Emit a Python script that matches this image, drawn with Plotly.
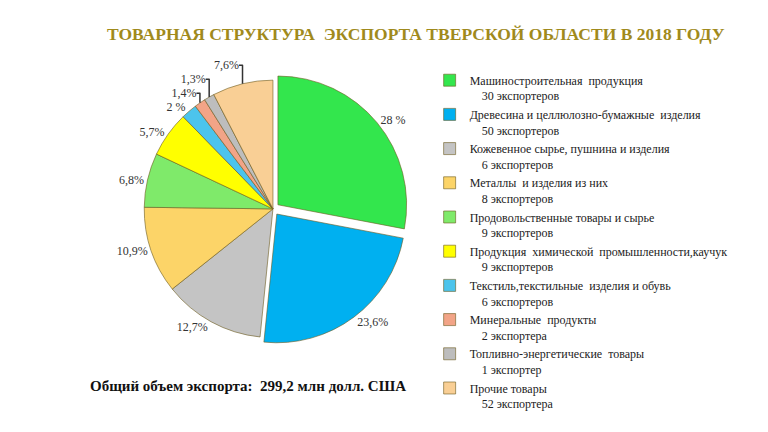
import plotly.graph_objects as go

categories = [
    "Машиностроительная  продукция",
    "Древесина и целлюлозно-бумажные  изделия",
    "Кожевенное сырье, пушнина и изделия",
    "Металлы  и изделия из них",
    "Продовольственные товары и сырье",
    "Продукция  химической  промышленности,каучук",
    "Текстиль,текстильные  изделия и обувь",
    "Минеральные  продукты",
    "Топливно-энергетические  товары",
    "Прочие товары",
]
exporters = [
    "30 экспортеров", "50 экспортеров", "6 экспортеров", "8 экспортеров",
    "9 экспортеров", "9 экспортеров", "6 экспортеров", "2 экспортера",
    "1 экспортер", "52 экспортера",
]
shares = [28.0, 23.6, 12.7, 10.9, 6.8, 5.7, 2.0, 1.4, 1.3, 7.6]
share_labels = ["28 %", "23,6%", "12,7%", "10,9%", "6,8%", "5,7%", "2 %", "1,4%", "1,3%", "7,6%"]
colors = ["#33e64d", "#00b0f0", "#c4c4c4", "#fcd468", "#7fea6a",
          "#ffff00", "#4cc4ec", "#f2a487", "#bdbdbd", "#f9cf95"]

nb = "\u00a0"
legend_names = [f"{c}<br>{nb*4}{e}" for c, e in zip(categories, exporters)]

fig = go.Figure()
fig.add_trace(go.Pie(
    labels=legend_names,
    values=shares,
    text=share_labels,
    textinfo="text",
    textposition="outside",
    sort=False,
    direction="clockwise",
    rotation=0,
    pull=[0.05, 0.05, 0, 0, 0, 0, 0, 0, 0, 0],
    marker=dict(colors=colors, line=dict(color="#6b5a1e", width=0.6)),
    textfont=dict(family="Liberation Serif", size=12, color="#333333"),
    domain=dict(x=[0.169, 0.521], y=[0.22, 0.85]),
    hoverinfo="label+percent",
))

fig.update_layout(
    width=768, height=432,
    margin=dict(l=0, r=0, t=0, b=0, autoexpand=False),
    paper_bgcolor="white",
    font=dict(family="Liberation Serif", size=12, color="#222222"),
    title=dict(
        text="<b>ТОВАРНАЯ СТРУКТУРА  ЭКСПОРТА ТВЕРСКОЙ ОБЛАСТИ В 2018 ГОДУ</b>",
        x=0.531, xanchor="center", y=0.94, yanchor="middle",
        font=dict(family="Liberation Serif", size=17.5, color="#a08a1c"),
    ),
    legend=dict(
        x=0.549, xanchor="left", y=0.866, yanchor="top",
        valign="top", tracegroupgap=0, itemwidth=30,
        font=dict(family="Liberation Serif", size=12, color="#222222"),
        bgcolor="rgba(0,0,0,0)",
    ),
    showlegend=True,
    annotations=[dict(
        text="<b>Общий объем экспорта:  299,2 млн долл. США</b>",
        x=0.104, y=0.126, xref="paper", yref="paper",
        xanchor="left", yanchor="middle", showarrow=False,
        font=dict(family="Liberation Serif", size=15, color="#111111"),
    )],
)

fig.write_html("out.html")
